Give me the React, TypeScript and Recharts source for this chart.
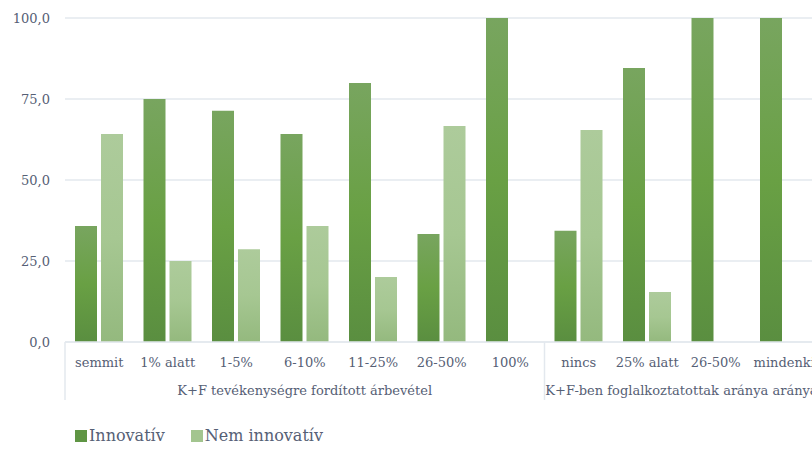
import React from 'react';
import { BarChart, Bar, XAxis, YAxis, CartesianGrid, Legend } from 'recharts';

const categories = ['semmit', '1% alatt', '1-5%', '6-10%', '11-25%', '26-50%', '100%', 'nincs', '25% alatt', '26-50%', 'mindenki'];
const innovativ = [35.8, 75.0, 71.4, 64.2, 79.9, 33.3, 100.0, 34.3, 84.6, 100.0, 100.0];
const nemInnovativ = [64.2, 25.0, 28.6, 35.8, 20.1, 66.7, 0, 65.4, 15.4, 0, 0];
const groupLabels = ['K+F tevékenységre fordított árbevétel', 'K+F-ben foglalkoztatottak aránya aránya'];
const groupSizes = [7, 4];
const yTicks = [0, 25, 50, 75, 100];

const data = categories.map((c, i) => ({ cat: c, idx: i, a: innovativ[i], b: nemInnovativ[i] }));

const CHART_W = 830;
const CHART_H = 451;
const MARGIN = { top: 18, right: 11.5, left: 0, bottom: 0 };
const Y_W = 65;
const BAND = (CHART_W - MARGIN.left - MARGIN.right - Y_W) / categories.length;

const groupStarts: number[] = [];
{
  let s = 0;
  groupSizes.forEach((n) => { groupStarts.push(s); s += n; });
}

const TEXT = '#566075';
const GRID = '#e3e8ee';
const FONT = '"DejaVu Serif", serif';

const CatTick = (props: any) => {
  const { x, y, payload } = props;
  const i = payload.index;
  const g = groupStarts.indexOf(i);
  return (
    <g>
      <text x={x} y={y + 25} textAnchor="middle" fontSize={13} fill={TEXT} fontFamily={FONT}>{payload.value}</text>
      {g >= 0 && (
        <line x1={x - BAND / 2} x2={x - BAND / 2} y1={y} y2={y + 58} stroke={GRID} strokeWidth={1.5} />
      )}
      {g >= 0 && (
        <text x={x + ((groupSizes[g] - 1) * BAND) / 2} y={y + 53} textAnchor="middle" fontSize={13} fill={TEXT} fontFamily={FONT}>{groupLabels[g]}</text>
      )}
    </g>
  );
};

const LegendContent = () => (
  <div style={{ height: 51, boxSizing: 'border-box', paddingTop: 20, paddingLeft: 75, display: 'flex', alignItems: 'center', fontFamily: FONT, fontSize: 16, color: TEXT }}>
    <span style={{ display: 'inline-block', width: 12, height: 12, background: '#5f9544', marginRight: 2 }} />
    <span style={{ marginRight: 26 }}>Innovatív</span>
    <span style={{ display: 'inline-block', width: 12, height: 12, background: '#a3c58f', marginRight: 2 }} />
    <span>Nem innovatív</span>
  </div>
);

export default function App() {
  return (
    <div style={{ position: 'absolute', left: 0, top: 0, width: 812, height: 451, overflow: 'hidden', background: '#fff' }}>
      <BarChart width={CHART_W} height={CHART_H} data={data} margin={MARGIN} barSize={22} barGap={4}>
        <defs>
          <linearGradient id="gA" x1="0" y1="0" x2="0" y2="1">
            <stop offset="0%" stopColor="#78a55f" />
            <stop offset="50%" stopColor="#69a044" />
            <stop offset="100%" stopColor="#5a8e40" />
          </linearGradient>
          <linearGradient id="gB" x1="0" y1="0" x2="0" y2="1">
            <stop offset="0%" stopColor="#adcb9b" />
            <stop offset="50%" stopColor="#a6c792" />
            <stop offset="100%" stopColor="#94b97e" />
          </linearGradient>
        </defs>
        <CartesianGrid vertical={false} stroke={GRID} strokeWidth={1.5} />
        <XAxis dataKey="cat" interval={0} tickLine={false} tickSize={0} tickMargin={0} height={58}
          axisLine={{ stroke: GRID, strokeWidth: 1.5 }} tick={<CatTick />} />
        <YAxis domain={[0, 100]} ticks={yTicks} width={Y_W} axisLine={false} tickLine={false} tickSize={0} tickMargin={15}
          tickFormatter={(v: number) => v.toFixed(1).replace('.', ',')}
          tick={{ fill: TEXT, fontSize: 13, fontFamily: FONT }} />
        <Legend verticalAlign="bottom" align="left" content={<LegendContent />} />
        <Bar dataKey="a" name="Innovatív" fill="url(#gA)" isAnimationActive={false} />
        <Bar dataKey="b" name="Nem innovatív" fill="url(#gB)" isAnimationActive={false} />
      </BarChart>
    </div>
  );
}
